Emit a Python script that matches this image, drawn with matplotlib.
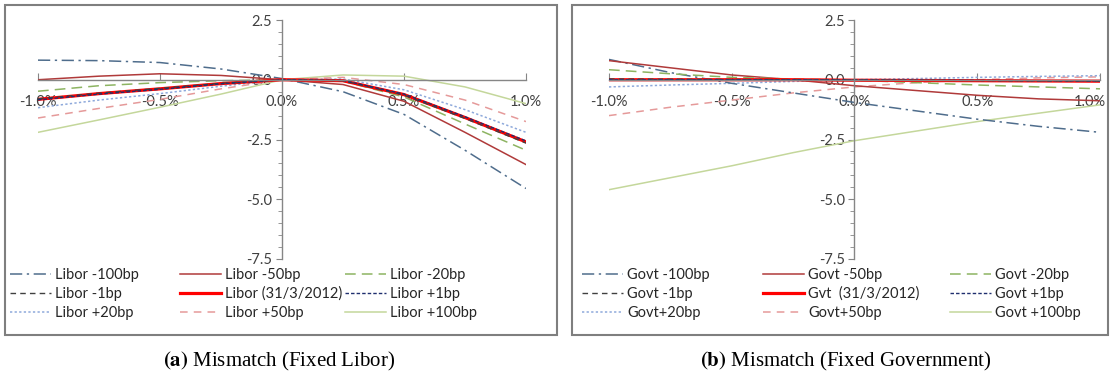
import matplotlib
matplotlib.use("Agg")
import matplotlib.pyplot as plt
from matplotlib.patches import Rectangle
from matplotlib.transforms import ScaledTranslation

plt.rcParams['font.family'] = ['Lato', 'DejaVu Sans']
plt.rcParams['mathtext.fontset'] = 'stix'

# shift of the rate (%)
x = [-1.0, -0.75, -0.5, -0.25, 0.0, 0.25, 0.5, 0.75, 1.0]

# panel (a) fixed Libor
libor_m100 = [0.82, 0.80, 0.72, 0.45, 0.05, -0.50, -1.45, -2.95, -4.55]
libor_m50 = [0.00, 0.15, 0.25, 0.18, 0.00, -0.20, -0.90, -2.20, -3.55]
libor_m20 = [-0.48, -0.25, -0.12, -0.04, 0.00, -0.06, -0.72, -1.85, -2.95]
libor_m1 = [-0.80, -0.56, -0.36, -0.15, 0.00, -0.04, -0.64, -1.62, -2.65]
libor_base = [-0.82, -0.58, -0.38, -0.16, 0.00, -0.04, -0.62, -1.58, -2.60]
libor_p1 = [-0.84, -0.60, -0.40, -0.17, 0.00, -0.03, -0.60, -1.55, -2.56]
libor_p20 = [-1.17, -0.85, -0.58, -0.27, 0.00, 0.03, -0.42, -1.25, -2.20]
libor_p50 = [-1.60, -1.20, -0.82, -0.38, 0.00, 0.10, -0.20, -0.85, -1.75]
libor_p100 = [-2.20, -1.68, -1.15, -0.60, 0.00, 0.20, 0.15, -0.30, -1.00]

# panel (b) fixed government
govt_m100 = [0.85, 0.30, -0.15, -0.55, -0.95, -1.30, -1.65, -1.95, -2.20]
govt_m50 = [0.80, 0.50, 0.20, 0.00, -0.25, -0.45, -0.65, -0.80, -0.88]
govt_m20 = [0.42, 0.25, 0.10, 0.03, -0.02, -0.12, -0.22, -0.30, -0.38]
govt_m1 = [0.03, 0.02, 0.01, 0.00, 0.00, -0.02, -0.03, -0.05, -0.06]
govt_base = [0.00, 0.00, 0.00, 0.00, -0.02, -0.03, -0.04, -0.05, -0.06]
govt_p1 = [0.00, 0.00, 0.00, 0.00, -0.01, -0.02, -0.03, -0.04, -0.05]
govt_p20 = [-0.30, -0.22, -0.15, -0.07, 0.00, 0.05, 0.10, 0.14, 0.17]
govt_p50 = [-1.50, -1.15, -0.85, -0.55, -0.30, -0.12, 0.00, 0.08, 0.12]
govt_p100 = [-4.60, -4.10, -3.60, -3.05, -2.55, -2.15, -1.75, -1.40, -1.05]

libor_labels = ["Libor -100bp", "Libor -50bp", "Libor -20bp",
                "Libor -1bp", "Libor (31/3/2012)", "Libor +1bp",
                "Libor +20bp", "Libor +50bp", "Libor +100bp"]
govt_labels = ["Govt -100bp", "Govt -50bp", "Govt -20bp",
               "Govt -1bp", "Gvt  (31/3/2012)", "Govt +1bp",
               "Govt+20bp", "Govt+50bp", "Govt +100bp"]

colors = ["#4f6d8c", "#b03a3a", "#8db462", "#404040", "#ff0000",
          "#1f2f6f", "#8ea9db", "#e59a9a", "#c4d79b"]
styles = [(0, (8, 3, 1.5, 3)), "-", (0, (7, 4)), (0, (4, 3)), "-",
          (0, (2.5, 1.5)), (0, (1.5, 1.5)), (0, (5, 4)), "-"]
widths = [1.1, 1.1, 1.1, 1.0, 2.3, 1.0, 1.1, 1.1, 1.1]
draw_order = [8, 7, 6, 0, 1, 2, 4, 3, 5]

W, H = 1110, 379
fig = plt.figure(figsize=(W / 100, H / 100), dpi=100)


def panel(x0, x1, series, labels, leg_x):
    ax = fig.add_axes([x0 / W, 1 - 259 / H, (x1 - x0) / W, (259 - 20) / H])
    lines = [None] * 9
    for i in draw_order:
        ln, = ax.plot(x, series[i], color=colors[i], ls=styles[i], lw=widths[i])
        lines[i] = ln
    ax.set_xlim(-1, 1)
    ax.set_ylim(-7.5, 2.5)
    for s in ["top", "right"]:
        ax.spines[s].set_visible(False)
    ax.spines["left"].set_position(("data", 0))
    ax.spines["bottom"].set_position(("data", 0))
    for s in ["left", "bottom"]:
        ax.spines[s].set_color("#868686")
        ax.spines[s].set_linewidth(1.0)
    ax.set_xticks([-1.0, -0.5, 0.0, 0.5, 1.0])
    ax.set_xticklabels(["-1.0%", "-0.5%", "0.0%", "0.5%", "1.0%"])
    ax.set_yticks([2.5, 0.0, -2.5, -5.0, -7.5])
    ax.set_yticklabels(["2.5", "0.0", "-2.5", "-5.0", "-7.5"])
    ax.set_yticks([v / 2 for v in range(-15, 6)], minor=True)
    ax.tick_params(axis="x", direction="in", length=5, pad=11, color="#868686",
                   labelsize=10.5, labelcolor="#404040")
    ax.tick_params(axis="y", which="major", direction="out", length=4, pad=3,
                   color="#868686", labelsize=10.5, labelcolor="#404040")
    ax.tick_params(axis="y", which="minor", direction="out", length=3,
                   color="#868686")
    ax.patch.set_alpha(0)
    # three legend columns, filled row by row like the original
    for c in range(3):
        idx = [c, c + 3, c + 6]
        fig.legend([lines[i] for i in idx], [labels[i] for i in idx],
                   loc="upper left", bbox_to_anchor=(leg_x[c] / W, 1 - 268 / H),
                   frameon=False, fontsize=10.5, handlelength=2.8,
                   handletextpad=0.3, labelspacing=0.33, borderpad=0,
                   borderaxespad=0, labelcolor="#262626")
    return ax


panel(38, 526, [libor_m100, libor_m50, libor_m20, libor_m1, libor_base,
                libor_p1, libor_p20, libor_p50, libor_p100],
      libor_labels, [10, 180, 345])
axb = panel(609, 1100, [govt_m100, govt_m50, govt_m20, govt_m1, govt_base,
                        govt_p1, govt_p20, govt_p50, govt_p100],
            govt_labels, [582, 763, 950])

# keep the last tick label of panel (b) inside its frame
last = axb.get_xticklabels()[-1]
last.set_horizontalalignment("right")
last.set_transform(last.get_transform() + ScaledTranslation(6 / 100, 0, fig.dpi_scale_trans))

# chart frames
for bx0, bx1 in [(5, 557), (572, 1108)]:
    fig.patches.append(Rectangle((bx0 / W, 1 - 335 / H), (bx1 - bx0) / W,
                                 (335 - 5) / H, transform=fig.transFigure,
                                 fill=False, edgecolor="#7f7f7f", lw=1.5))

# captions
cap = dict(ha="center", va="center", fontsize=15, family="Liberation Serif")
fig.text(279 / W, 1 - 361 / H, r"$\mathbf{(a)}$ Mismatch (Fixed Libor)", **cap)
fig.text(846 / W, 1 - 361 / H, r"$\mathbf{(b)}$ Mismatch (Fixed Government)", **cap)

fig.savefig("out.png", dpi=100)
